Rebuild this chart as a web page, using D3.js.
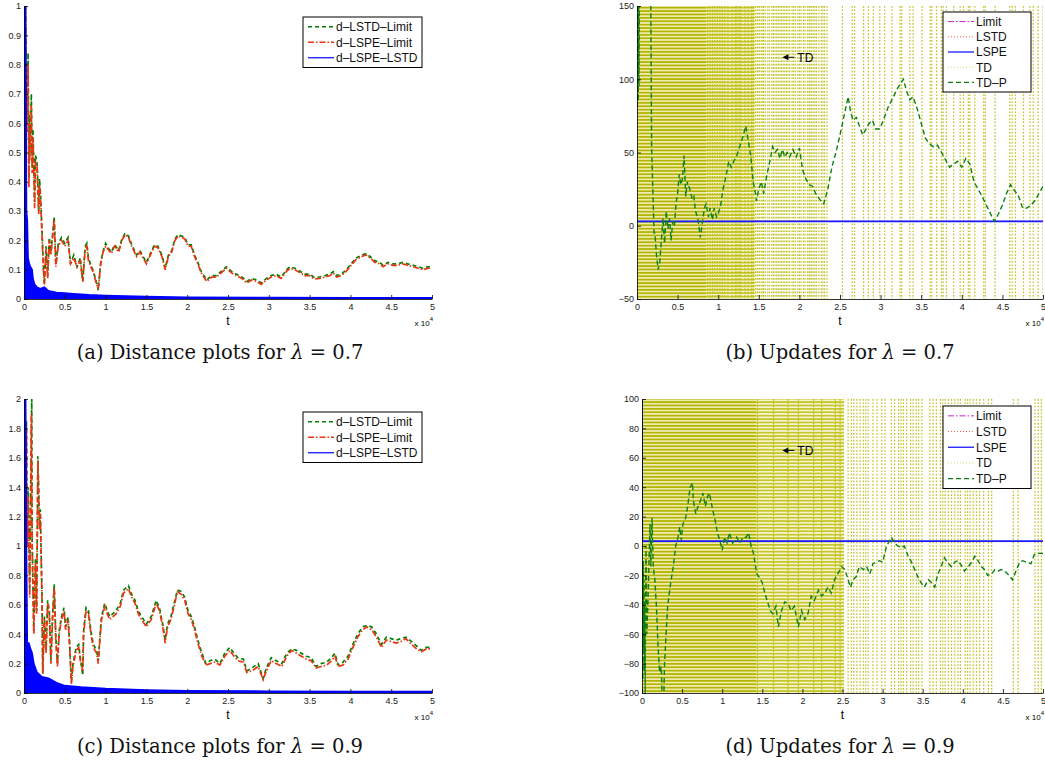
<!DOCTYPE html>
<html>
<head>
<meta charset="utf-8">
<script src="https://cdn.jsdelivr.net/npm/d3@7"></script>
<style>
  body { margin: 0; background: #fff; }
  svg { display: block; }
  text { font-family: "Liberation Sans", Arial, sans-serif; }
  .cap { font-family: "DejaVu Serif", "Liberation Serif", serif; }
</style>
</head>
<body>
<svg id="fig" width="1045" height="763"></svg>
<script>
// ---- tick values and labels ----
const xTicks = [0, 0.5, 1, 1.5, 2, 2.5, 3, 3.5, 4, 4.5, 5];
const yTicksA = [0, 0.1, 0.2, 0.3, 0.4, 0.5, 0.6, 0.7, 0.8, 0.9, 1];
const yTicksB = [-50, 0, 50, 100, 150];
const yTicksC = [0, 0.2, 0.4, 0.6, 0.8, 1, 1.2, 1.4, 1.6, 1.8, 2];
const yTicksD = [-100, -80, -60, -40, -20, 0, 20, 40, 60, 80, 100];

const legendDist = ["d–LSTD–Limit", "d–LSPE–Limit", "d–LSPE–LSTD"];
const legendUpd = ["Limit", "LSTD", "LSPE", "TD", "TD–P"];
const capLabels = ["(a)", "(b)", "(c)", "(d)"];
const capTexts = ["Distance plots for", "Updates for", "Distance plots for", "Updates for"];
const capLambda = ["0.7", "0.7", "0.9", "0.9"];

// ---- (a) lambda = 0.7 distances, t in units of 1e4 ----
const lstdA = [[0,1.0],[0.01,1.0],[0.03,0.7],[0.04,0.6],[0.05,0.84],[0.06,0.41],[0.065,0.63],[0.07,0.5],[0.08,0.57],[0.09,0.7],[0.1,0.45],[0.11,0.58],[0.13,0.33],[0.14,0.49],[0.16,0.47],[0.18,0.3],[0.19,0.41],[0.2,0.37],[0.22,0.24],[0.24,0.1],[0.25,0.05],[0.27,0.18],[0.29,0.08],[0.31,0.21],[0.33,0.16],[0.35,0.22],[0.37,0.28],[0.39,0.12],[0.42,0.19],[0.46,0.21],[0.5,0.19],[0.54,0.21],[0.57,0.12],[0.61,0.15],[0.65,0.11],[0.69,0.14],[0.72,0.06],[0.75,0.18],[0.77,0.19],[0.79,0.14],[0.82,0.115],[0.85,0.095],[0.89,0.055],[0.91,0.03],[0.94,0.125],[0.97,0.165],[1.0,0.19],[1.03,0.175],[1.07,0.16],[1.11,0.185],[1.16,0.165],[1.2,0.205],[1.24,0.225],[1.28,0.215],[1.32,0.185],[1.38,0.15],[1.42,0.165],[1.46,0.145],[1.5,0.125],[1.54,0.15],[1.6,0.185],[1.64,0.18],[1.69,0.15],[1.73,0.105],[1.77,0.15],[1.81,0.165],[1.85,0.205],[1.89,0.22],[1.93,0.215],[1.97,0.21],[2.01,0.185],[2.05,0.185],[2.09,0.15],[2.13,0.125],[2.17,0.095],[2.24,0.065],[2.3,0.08],[2.36,0.08],[2.42,0.095],[2.48,0.11],[2.54,0.095],[2.6,0.085],[2.67,0.075],[2.73,0.06],[2.79,0.07],[2.85,0.065],[2.91,0.055],[2.97,0.07],[3.03,0.08],[3.09,0.085],[3.15,0.075],[3.22,0.1],[3.26,0.11],[3.32,0.105],[3.38,0.095],[3.44,0.085],[3.5,0.085],[3.56,0.073],[3.62,0.075],[3.69,0.08],[3.75,0.085],[3.79,0.093],[3.83,0.08],[3.89,0.085],[3.95,0.1],[4.01,0.12],[4.07,0.14],[4.14,0.15],[4.19,0.155],[4.24,0.145],[4.3,0.13],[4.36,0.125],[4.4,0.115],[4.46,0.125],[4.52,0.12],[4.58,0.12],[4.64,0.125],[4.7,0.12],[4.77,0.115],[4.83,0.11],[4.89,0.105],[4.95,0.11],[5.0,0.11]];
const lspeA = [[0,1.0],[0.02,1.0],[0.03,0.62],[0.04,0.57],[0.05,0.8],[0.06,0.38],[0.065,0.6],[0.07,0.47],[0.08,0.54],[0.09,0.66],[0.1,0.43],[0.11,0.55],[0.13,0.31],[0.14,0.47],[0.16,0.45],[0.18,0.29],[0.19,0.39],[0.2,0.36],[0.22,0.22],[0.24,0.09],[0.25,0.05],[0.27,0.17],[0.29,0.07],[0.31,0.2],[0.33,0.15],[0.35,0.21],[0.37,0.27],[0.39,0.11],[0.42,0.18],[0.46,0.2],[0.5,0.18],[0.54,0.2],[0.57,0.12],[0.61,0.14],[0.65,0.11],[0.69,0.13],[0.72,0.06],[0.75,0.17],[0.77,0.18],[0.79,0.13],[0.82,0.11],[0.85,0.09],[0.89,0.05],[0.91,0.035],[0.94,0.12],[0.97,0.16],[1.0,0.18],[1.03,0.17],[1.07,0.155],[1.11,0.18],[1.16,0.16],[1.2,0.2],[1.24,0.22],[1.28,0.21],[1.32,0.18],[1.38,0.145],[1.42,0.16],[1.46,0.14],[1.5,0.12],[1.54,0.145],[1.6,0.18],[1.64,0.175],[1.69,0.145],[1.73,0.1],[1.77,0.145],[1.81,0.16],[1.85,0.2],[1.89,0.215],[1.93,0.21],[1.97,0.205],[2.01,0.18],[2.05,0.18],[2.09,0.145],[2.13,0.12],[2.17,0.09],[2.24,0.06],[2.3,0.075],[2.36,0.075],[2.42,0.09],[2.48,0.105],[2.54,0.09],[2.6,0.08],[2.67,0.07],[2.73,0.055],[2.79,0.065],[2.85,0.06],[2.91,0.05],[2.97,0.065],[3.03,0.075],[3.09,0.08],[3.15,0.07],[3.22,0.095],[3.26,0.105],[3.32,0.1],[3.38,0.09],[3.44,0.08],[3.5,0.08],[3.56,0.068],[3.62,0.07],[3.69,0.075],[3.75,0.08],[3.79,0.088],[3.83,0.075],[3.89,0.08],[3.95,0.095],[4.01,0.115],[4.07,0.135],[4.14,0.145],[4.19,0.15],[4.24,0.14],[4.3,0.125],[4.36,0.12],[4.4,0.11],[4.46,0.12],[4.52,0.115],[4.58,0.115],[4.64,0.12],[4.7,0.115],[4.77,0.11],[4.83,0.105],[4.89,0.1],[4.95,0.105],[5.0,0.105]];
const diffA = [[0,1.0],[0.02,1.0],[0.025,0.72],[0.03,0.3],[0.04,0.27],[0.05,0.14],[0.065,0.12],[0.08,0.11],[0.1,0.1],[0.11,0.07],[0.13,0.05],[0.16,0.04],[0.2,0.035],[0.25,0.04],[0.3,0.028],[0.4,0.022],[0.5,0.02],[0.6,0.018],[0.8,0.014],[1.0,0.012],[1.5,0.008],[2.0,0.006],[3.0,0.005],[4.0,0.004],[5.0,0.004]];

// ---- (c) lambda = 0.9 distances ----
const lstdC = [[0,2.0],[0.01,2.0],[0.02,1.5],[0.03,1.85],[0.04,1.05],[0.05,1.4],[0.07,0.7],[0.08,1.3],[0.095,2.0],[0.1,1.05],[0.12,0.42],[0.14,0.92],[0.155,0.56],[0.17,1.61],[0.19,1.15],[0.2,1.25],[0.22,0.68],[0.23,0.14],[0.25,0.52],[0.27,0.29],[0.29,0.63],[0.31,0.56],[0.33,0.22],[0.35,0.52],[0.37,0.74],[0.39,0.38],[0.41,0.2],[0.43,0.42],[0.46,0.52],[0.49,0.58],[0.51,0.45],[0.54,0.52],[0.56,0.33],[0.58,0.08],[0.6,0.2],[0.64,0.31],[0.67,0.33],[0.69,0.24],[0.72,0.12],[0.73,0.42],[0.76,0.58],[0.79,0.56],[0.82,0.42],[0.85,0.33],[0.89,0.29],[0.91,0.22],[0.93,0.38],[0.95,0.52],[0.99,0.61],[1.02,0.56],[1.05,0.52],[1.09,0.54],[1.13,0.56],[1.18,0.61],[1.22,0.7],[1.28,0.73],[1.32,0.67],[1.36,0.63],[1.4,0.56],[1.44,0.52],[1.5,0.47],[1.56,0.52],[1.62,0.63],[1.66,0.58],[1.7,0.47],[1.73,0.36],[1.76,0.47],[1.8,0.52],[1.84,0.61],[1.88,0.7],[1.93,0.69],[1.97,0.65],[2.01,0.56],[2.05,0.52],[2.09,0.45],[2.13,0.36],[2.18,0.27],[2.23,0.2],[2.28,0.22],[2.34,0.23],[2.4,0.2],[2.46,0.27],[2.52,0.31],[2.56,0.28],[2.62,0.24],[2.69,0.23],[2.73,0.15],[2.79,0.17],[2.87,0.2],[2.93,0.1],[2.97,0.17],[3.03,0.24],[3.09,0.22],[3.16,0.2],[3.22,0.27],[3.28,0.3],[3.34,0.29],[3.4,0.27],[3.46,0.25],[3.52,0.24],[3.58,0.18],[3.64,0.2],[3.71,0.21],[3.77,0.24],[3.81,0.27],[3.85,0.19],[3.91,0.21],[3.97,0.25],[4.03,0.33],[4.09,0.4],[4.15,0.45],[4.2,0.46],[4.26,0.45],[4.32,0.4],[4.38,0.33],[4.44,0.38],[4.5,0.37],[4.56,0.36],[4.62,0.37],[4.68,0.38],[4.75,0.35],[4.81,0.32],[4.87,0.29],[4.93,0.31],[5.0,0.31]];
const lspeC = [[0,2.0],[0.01,2.0],[0.02,1.45],[0.03,1.79],[0.04,1.0],[0.05,1.34],[0.07,0.65],[0.08,1.22],[0.09,1.9],[0.1,1.0],[0.12,0.4],[0.14,0.88],[0.155,0.54],[0.17,1.58],[0.19,1.11],[0.2,1.22],[0.22,0.65],[0.23,0.13],[0.25,0.5],[0.27,0.27],[0.29,0.61],[0.31,0.54],[0.33,0.2],[0.35,0.5],[0.37,0.72],[0.39,0.36],[0.41,0.18],[0.43,0.4],[0.46,0.5],[0.49,0.56],[0.51,0.43],[0.54,0.5],[0.56,0.31],[0.58,0.06],[0.6,0.18],[0.64,0.29],[0.67,0.31],[0.69,0.22],[0.72,0.15],[0.73,0.4],[0.76,0.56],[0.79,0.54],[0.82,0.4],[0.85,0.31],[0.89,0.27],[0.91,0.2],[0.93,0.36],[0.95,0.5],[0.99,0.59],[1.02,0.54],[1.05,0.5],[1.09,0.52],[1.13,0.54],[1.18,0.59],[1.22,0.68],[1.28,0.71],[1.32,0.65],[1.36,0.61],[1.4,0.54],[1.44,0.5],[1.5,0.45],[1.56,0.5],[1.62,0.61],[1.66,0.56],[1.7,0.45],[1.73,0.34],[1.76,0.45],[1.8,0.5],[1.84,0.59],[1.88,0.69],[1.93,0.67],[1.97,0.63],[2.01,0.54],[2.05,0.5],[2.09,0.43],[2.13,0.34],[2.18,0.25],[2.23,0.19],[2.28,0.2],[2.34,0.21],[2.4,0.19],[2.46,0.25],[2.52,0.29],[2.56,0.26],[2.62,0.22],[2.69,0.21],[2.73,0.14],[2.79,0.15],[2.87,0.18],[2.93,0.09],[2.97,0.15],[3.03,0.22],[3.09,0.2],[3.16,0.18],[3.22,0.25],[3.28,0.29],[3.34,0.27],[3.4,0.25],[3.46,0.23],[3.52,0.22],[3.58,0.17],[3.64,0.18],[3.71,0.19],[3.77,0.22],[3.81,0.25],[3.85,0.18],[3.91,0.19],[3.97,0.23],[4.03,0.31],[4.09,0.38],[4.15,0.43],[4.2,0.45],[4.26,0.43],[4.32,0.38],[4.38,0.31],[4.44,0.36],[4.5,0.35],[4.56,0.34],[4.62,0.35],[4.68,0.37],[4.75,0.33],[4.81,0.3],[4.87,0.28],[4.93,0.3],[5.0,0.3]];
const diffC = [[0,2.0],[0.02,2.0],[0.025,1.6],[0.03,1.0],[0.04,0.34],[0.06,0.34],[0.08,0.3],[0.1,0.27],[0.12,0.2],[0.16,0.14],[0.22,0.11],[0.3,0.1],[0.4,0.07],[0.5,0.05],[0.7,0.04],[1.0,0.03],[1.5,0.02],[2.0,0.015],[3.0,0.012],[4.0,0.01],[5.0,0.01]];

// ---- (b) lambda = 0.7 updates ----
const limitB = [[0,3],[5,3]];
const lstdB = [[0,3],[5,3]];
const lspeB = [[0,3],[5,3]];
const tdpB = [[0,150],[0.005,80],[0.01,170],[0.015,85],[0.02,170],[0.025,95],[0.03,170],[0.04,220],[0.16,220],[0.17,150],[0.18,54],[0.2,15],[0.21,-5],[0.22,-5],[0.24,-20],[0.26,-30],[0.28,-25],[0.3,-10],[0.32,5],[0.34,-12],[0.36,10],[0.38,-2],[0.4,5],[0.42,-10],[0.44,3],[0.46,0],[0.48,15],[0.5,22],[0.52,35],[0.54,28],[0.56,32],[0.58,48],[0.6,20],[0.62,30],[0.65,25],[0.68,18],[0.7,20],[0.72,10],[0.75,5],[0.78,-8],[0.8,0],[0.83,12],[0.85,15],[0.88,6],[0.9,12],[0.93,4],[0.95,12],[0.98,6],[1.0,8],[1.03,14],[1.06,25],[1.1,35],[1.13,44],[1.16,40],[1.2,45],[1.23,48],[1.27,55],[1.3,60],[1.34,68],[1.37,58],[1.4,48],[1.43,30],[1.46,22],[1.47,17],[1.5,25],[1.53,30],[1.56,22],[1.6,35],[1.64,45],[1.67,54],[1.7,50],[1.73,52],[1.76,46],[1.79,52],[1.82,47],[1.85,50],[1.88,47],[1.92,52],[1.96,47],[2.0,53],[2.04,38],[2.08,32],[2.12,28],[2.16,27],[2.2,22],[2.25,18],[2.3,15],[2.35,25],[2.4,40],[2.45,50],[2.5,62],[2.55,75],[2.6,88],[2.63,78],[2.66,72],[2.7,74],[2.74,68],[2.78,62],[2.82,66],[2.86,70],[2.9,72],[2.94,66],[2.98,66],[3.02,70],[3.06,76],[3.1,82],[3.15,87],[3.2,93],[3.28,100],[3.32,92],[3.36,86],[3.4,88],[3.45,80],[3.5,70],[3.55,60],[3.6,56],[3.65,54],[3.7,55],[3.75,50],[3.8,45],[3.85,40],[3.9,42],[3.95,44],[4.0,40],[4.05,46],[4.1,42],[4.15,30],[4.2,25],[4.25,20],[4.32,12],[4.4,3],[4.45,8],[4.5,14],[4.55,22],[4.6,28],[4.65,24],[4.7,20],[4.75,12],[4.8,12],[4.85,14],[4.9,17],[4.95,22],[5.0,27]];
// TD diverges: dense oscillation ranges and the single swings seen later on
const tdDenseB = [0, 0.85];
const tdMediumB = [0.85, 1.45];
const tdSwingsB = [0.87,0.90,0.93,0.96,0.99,1.02,1.05,1.08,1.12,1.17,1.21,1.23,1.26,1.28,1.33,1.37,1.41,1.43,1.46,1.48,1.49,1.51,1.53,1.55,1.56,1.58,1.61,1.63,1.66,1.68,1.70,1.72,1.74,1.76,1.78,1.80,1.82,1.84,1.86,1.88,1.91,1.93,1.95,1.98,2.00,2.02,2.05,2.07,2.10,2.12,2.13,2.15,2.17,2.19,2.21,2.24,2.27,2.29,2.31,2.34,2.53,2.65,2.68,2.79,2.85,2.91,2.99,3.05,3.14,3.24,3.26,3.36,3.40,3.51,3.61,3.63,3.69,3.75,3.77,3.81,3.90,3.98,4.02,4.08,4.10,4.16,4.27,4.29,4.41,4.59,4.62,4.66,4.76,4.84,4.88,4.94,5.0];
const tdNoteB = [1.79, 115];

// ---- (d) lambda = 0.9 updates ----
const limitD = [[0,3],[5,3]];
const lstdD = [[0,3],[5,3]];
const lspeD = [[0,110],[0.004,3.3],[5,3.3]];
const tdpD = [[0,0],[0.005,-60],[0.01,-91],[0.015,-10],[0.02,-70],[0.025,-23],[0.03,-85],[0.035,-40],[0.04,-100],[0.045,-30],[0.05,0],[0.06,-60],[0.075,-37],[0.09,-5],[0.1,15],[0.11,-14],[0.125,19],[0.14,-14],[0.16,-23],[0.18,-41],[0.2,-68],[0.22,-86],[0.24,-82],[0.255,-110],[0.27,-110],[0.28,-82],[0.3,-60],[0.32,-41],[0.35,-28],[0.39,-14],[0.42,0],[0.45,6],[0.47,13],[0.49,4],[0.51,15],[0.54,18],[0.57,27],[0.6,40],[0.63,43],[0.64,31],[0.67,22],[0.7,27],[0.73,31],[0.76,36],[0.79,27],[0.82,34],[0.84,36],[0.88,25],[0.91,18],[0.94,9],[0.97,4],[1.0,-3],[1.03,6],[1.06,2],[1.09,9],[1.13,2],[1.16,4],[1.18,6],[1.22,2],[1.26,6],[1.3,6],[1.33,9],[1.36,0],[1.39,-5],[1.43,-19],[1.46,-21],[1.5,-25],[1.53,-32],[1.56,-37],[1.6,-44],[1.63,-46],[1.67,-41],[1.7,-55],[1.74,-44],[1.78,-38],[1.82,-39],[1.86,-44],[1.9,-41],[1.95,-55],[1.99,-44],[2.03,-50],[2.07,-46],[2.11,-34],[2.15,-37],[2.2,-30],[2.24,-34],[2.28,-32],[2.32,-28],[2.36,-32],[2.4,-23],[2.44,-19],[2.49,-14],[2.53,-16],[2.57,-23],[2.6,-28],[2.63,-23],[2.67,-21],[2.71,-14],[2.76,-16],[2.8,-14],[2.84,-19],[2.88,-12],[2.92,-11],[2.96,-10],[3.0,-11],[3.05,0],[3.09,4],[3.11,6],[3.15,2],[3.19,0],[3.23,-1],[3.27,0],[3.32,-7],[3.36,-11],[3.4,-16],[3.44,-21],[3.48,-25],[3.52,-28],[3.57,-23],[3.61,-25],[3.65,-28],[3.69,-19],[3.73,-14],[3.77,-8],[3.82,-12],[3.86,-14],[3.9,-11],[3.94,-10],[3.98,-13],[4.02,-17],[4.07,-14],[4.11,-11],[4.15,-7],[4.19,-10],[4.23,-14],[4.27,-16],[4.31,-20],[4.36,-19],[4.4,-16],[4.44,-17],[4.48,-16],[4.52,-17],[4.56,-19],[4.62,-23],[4.67,-16],[4.71,-11],[4.75,-10],[4.79,-11],[4.85,-12],[4.89,-6],[4.94,-5],[5.0,-5]];
const tdDenseD = [0, 1.43];
const tdMediumD = [1.43, 2.52];
const tdSwingsD = [1.44,1.64,1.82,1.95,2.14,2.24,2.41,2.47,2.57,2.61,2.64,2.68,2.72,2.76,2.79,2.82,2.88,2.93,2.99,3.03,3.11,3.15,3.20,3.23,3.26,3.30,3.35,3.38,3.42,3.45,3.49,3.59,3.63,3.67,3.72,3.75,3.78,3.82,3.86,3.90,3.94,3.97,4.03,4.06,4.09,4.13,4.17,4.21,4.26,4.32,4.36,4.63,4.69,4.90,4.94,4.98];
const tdNoteD = [1.75, 65];

// ---- styles ----
const st = {
  lstd:  { stroke: "#008000", dash: "4,3", w: 1.7 },
  lspe:  { stroke: "#ee3311", dash: "6,2,1.5,2", w: 1.7 },
  diff:  { stroke: "#0000ff", dash: null, w: 1.2 },
  limit: { stroke: "#cc22cc", dash: "6,2,1.5,2", w: 1 },
  lstdU: { stroke: "#ff5544", dash: "1,2", w: 1 },
  lspeU: { stroke: "#1a1aff", dash: null, w: 1.6 },
  td:    { stroke: "#d6d66a", dash: "1,2", w: 1 },
  tdp:   { stroke: "#0f7f0f", dash: "5,3", w: 1.4 }
};

const svg = d3.select("#fig");
const defs = svg.append("defs");

function stripePattern(id, bg, fg) {
  const p = defs.append("pattern").attr("id", id)
    .attr("patternUnits", "userSpaceOnUse").attr("width", 4).attr("height", 3.4);
  p.append("rect").attr("width", 4).attr("height", 3.4).attr("fill", bg);
  p.append("rect").attr("width", 4).attr("height", 1.7).attr("fill", fg);
}
stripePattern("tdDense", "#ecebb0", "#b4b400");
stripePattern("tdMedium", "#f4f4d2", "#c6c628");

const fmt = d => (d < 0 ? "\u2212" : "") + Math.abs(d);

function panel(id, box, yDom, yTicks) {
  const x = d3.scaleLinear().domain([0, 5]).range([box.l, box.r]);
  const y = d3.scaleLinear().domain(yDom).range([box.b, box.t]);

  defs.append("clipPath").attr("id", "clip" + id)
    .append("rect").attr("x", box.l).attr("y", box.t)
    .attr("width", box.r - box.l).attr("height", box.b - box.t);

  const plot = svg.append("g").attr("clip-path", `url(#clip${id})`);

  const xa = svg.append("g").attr("transform", `translate(0,${box.b})`)
    .call(d3.axisBottom(x).tickValues(xTicks).tickFormat(fmt)
      .tickSize(-4).tickSizeOuter(0).tickPadding(5));
  const ya = svg.append("g").attr("transform", `translate(${box.l},0)`)
    .call(d3.axisLeft(y).tickValues(yTicks).tickFormat(fmt)
      .tickSize(-4).tickSizeOuter(0).tickPadding(3));
  [xa, ya].forEach(a => {
    a.attr("font-family", "Liberation Sans, Arial, sans-serif").attr("font-size", 9);
    a.selectAll("text").attr("fill", "#222");
    a.selectAll("path,line").attr("stroke", "#000").attr("stroke-width", 0.8);
  });

  svg.append("text").attr("x", x(2.5)).attr("y", box.b + 26)
    .attr("text-anchor", "middle").attr("font-size", 12).text("t");
  const ex = svg.append("text").attr("x", box.r + 1).attr("y", box.b + 27)
    .attr("text-anchor", "end").attr("font-size", 8);
  ex.append("tspan").text("x 10");
  ex.append("tspan").attr("dy", -5).attr("font-size", 6).text("4");

  return { x, y, plot, box };
}

function line(p, data, s) {
  p.plot.append("path").datum(data)
    .attr("d", d3.line().x(d => p.x(d[0])).y(d => p.y(d[1])))
    .attr("fill", "none").attr("stroke", s.stroke).attr("stroke-width", s.w)
    .attr("stroke-dasharray", s.dash);
}

function blueArea(p, data) {
  p.plot.append("path").datum(data)
    .attr("d", d3.area().x(d => p.x(d[0])).y0(p.y(0)).y1(d => p.y(d[1])))
    .attr("fill", st.diff.stroke).attr("stroke", st.diff.stroke).attr("stroke-width", 1.6);
}

function tdMarks(p, dense, medium, swings) {
  const b = p.box;
  p.plot.append("rect").attr("x", p.x(dense[0])).attr("y", b.t)
    .attr("width", p.x(dense[1]) - p.x(dense[0])).attr("height", b.b - b.t)
    .attr("fill", "url(#tdDense)");
  p.plot.append("rect").attr("x", p.x(medium[0])).attr("y", b.t)
    .attr("width", p.x(medium[1]) - p.x(medium[0])).attr("height", b.b - b.t)
    .attr("fill", "url(#tdMedium)");
  p.plot.selectAll(null).data(swings).enter().append("line")
    .attr("x1", d => p.x(d)).attr("x2", d => p.x(d))
    .attr("y1", b.t).attr("y2", b.b)
    .attr("stroke", "#b8b800").attr("stroke-width", 1.2)
    .attr("stroke-dasharray", "1.7,1.7").attr("opacity", 0.85);
}

function legend(x0, y0, w, rowH, names, styles) {
  const g = svg.append("g");
  g.append("rect").attr("x", x0).attr("y", y0).attr("width", w)
    .attr("height", rowH * names.length + 4)
    .attr("fill", "#fff").attr("stroke", "#000").attr("stroke-width", 1);
  names.forEach((n, i) => {
    const cy = y0 + 2 + rowH * (i + 0.5);
    const s = styles[i];
    g.append("line").attr("x1", x0 + 5).attr("x2", x0 + 31).attr("y1", cy).attr("y2", cy)
      .attr("stroke", s.stroke).attr("stroke-width", Math.min(s.w, 1.3)).attr("stroke-dasharray", s.dash);
    g.append("text").attr("x", x0 + 33).attr("y", cy + 4.3).attr("font-size", 12)
      .attr("fill", "#111").text(n);
  });
}

function note(p, pos) {
  const px = p.x(pos[0]), py = p.y(pos[1]);
  svg.append("line").attr("x1", px + 3).attr("x2", px + 12).attr("y1", py).attr("y2", py)
    .attr("stroke", "#000").attr("stroke-width", 1);
  svg.append("path").attr("d", `M${px},${py}L${px + 6},${py - 3}L${px + 6},${py + 3}Z`).attr("fill", "#000");
  svg.append("text").attr("x", px + 15).attr("y", py + 4.3).attr("font-size", 12).text("TD");
}

function caption(i, cx, cy) {
  const t = svg.append("text").attr("class", "cap").attr("x", cx).attr("y", cy)
    .attr("text-anchor", "middle").attr("font-size", 19.5).attr("fill", "#111");
  t.append("tspan").text(capLabels[i] + " " + capTexts[i] + " ");
  t.append("tspan").attr("font-style", "italic").text("\u03bb");
  t.append("tspan").text(" = " + capLambda[i]);
}

// (a)
const pa = panel("a", { l: 24, r: 432, t: 6, b: 299 }, [0, 1], yTicksA);
line(pa, lstdA, st.lstd);
line(pa, lspeA, st.lspe);
blueArea(pa, diffA);
legend(303, 17, 119, 15.5, legendDist, [st.lstd, st.lspe, st.diff]);

// (b)
const pb = panel("b", { l: 637, r: 1043, t: 6, b: 299 }, [-50, 150], yTicksB);
tdMarks(pb, tdDenseB, tdMediumB, tdSwingsB);
line(pb, limitB, st.limit);
line(pb, lstdB, st.lstdU);
line(pb, lspeB, st.lspeU);
line(pb, tdpB, st.tdp);
legend(943, 12, 88, 15.2, legendUpd, [st.limit, st.lstdU, st.lspeU, st.td, st.tdp]);
note(pb, tdNoteB);

// (c)
const pc = panel("c", { l: 24, r: 432, t: 399, b: 693 }, [0, 2], yTicksC);
line(pc, lstdC, st.lstd);
line(pc, lspeC, st.lspe);
blueArea(pc, diffC);
legend(303, 412, 119, 15.5, legendDist, [st.lstd, st.lspe, st.diff]);

// (d)
const pd = panel("d", { l: 642, r: 1043, t: 399, b: 693 }, [-100, 100], yTicksD);
tdMarks(pd, tdDenseD, tdMediumD, tdSwingsD);
line(pd, limitD, st.limit);
line(pd, lstdD, st.lstdU);
line(pd, lspeD, st.lspeU);
line(pd, tdpD, st.tdp);
legend(943, 406, 88, 15.7, legendUpd, [st.limit, st.lstdU, st.lspeU, st.td, st.tdp]);
note(pd, tdNoteD);

caption(0, 220, 359);
caption(1, 840, 359);
caption(2, 220, 753);
caption(3, 840, 753);
</script>
</body>
</html>
